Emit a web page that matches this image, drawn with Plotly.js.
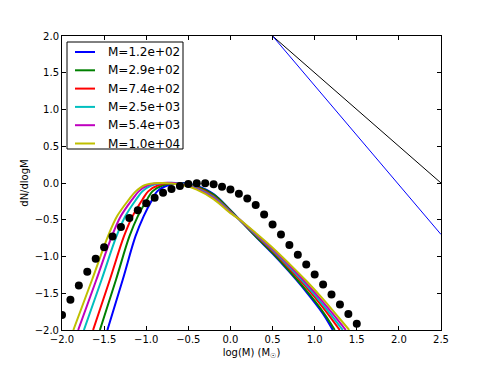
<!DOCTYPE html>
<html>
<head>
<meta charset="utf-8">
<script src="https://cdn.plot.ly/plotly-3.0.1.min.js"></script>
<style>html,body{margin:0;padding:0;background:#fff;}#chart{width:491px;height:368px;}</style>
</head>
<body>
<div id="chart"></div>
<script>
// ---- data ----
const seriesNames = ["M=1.2e+02", "M=2.9e+02", "M=7.4e+02", "M=2.5e+03", "M=5.4e+03", "M=1.0e+04"];
const seriesColors = ["#0000ff", "#008000", "#ff0000", "#00bfbf", "#bf00bf", "#bfbf00"];

const blueX = [-1.461, -1.279, -1.128, -1.03, -0.93, -0.87, -0.74, -0.56, -0.4, -0.2, 0.0, 0.1, 0.3, 0.5, 0.7, 0.9, 1.1, 1.215];
const blueY = [-2.0, -1.316, -0.727, -0.45, -0.227, -0.114, -0.03, 0.0, -0.04, -0.15, -0.37, -0.49, -0.73, -0.96, -1.21, -1.48, -1.78, -2.0];

const greenX = [-1.550, -1.359, -1.200, -1.099, -0.991, -0.926, -0.802, -0.624, -0.4, -0.2, 0.0, 0.1, 0.3, 0.5, 0.7, 0.9, 1.1, 1.239];
const greenY = [-2.0, -1.316, -0.727, -0.45, -0.227, -0.114, -0.03, 0.0, -0.046, -0.158, -0.375, -0.49, -0.724, -0.95, -1.197, -1.462, -1.756, -2.0];

const redX = [-1.631, -1.432, -1.265, -1.162, -1.046, -0.977, -0.858, -0.682, -0.4, -0.2, 0.0, 0.1, 0.3, 0.5, 0.7, 0.9, 1.1, 1.298];
const redY = [-2.0, -1.316, -0.727, -0.45, -0.227, -0.114, -0.03, 0.0, -0.061, -0.18, -0.387, -0.49, -0.709, -0.926, -1.163, -1.416, -1.694, -2.0];

const cyanX = [-1.740, -1.530, -1.354, -1.247, -1.121, -1.046, -0.933, -0.760, -0.6, -0.4, -0.2, 0.0, 0.1, 0.3, 0.5, 0.7, 0.9, 1.1, 1.3, 1.334];
const cyanY = [-2.0, -1.316, -0.727, -0.45, -0.227, -0.114, -0.03, 0.0, -0.006, -0.071, -0.193, -0.394, -0.49, -0.70, -0.911, -1.143, -1.389, -1.658, -1.95, -2.0];

const magentaX = [-1.808, -1.592, -1.409, -1.301, -1.168, -1.089, -0.981, -0.809, -0.6, -0.4, -0.2, 0.0, 0.1, 0.3, 0.5, 0.7, 0.9, 1.1, 1.3, 1.369];
const magentaY = [-2.0, -1.316, -0.727, -0.45, -0.227, -0.114, -0.03, 0.0, -0.012, -0.08, -0.205, -0.402, -0.49, -0.69, -0.897, -1.123, -1.362, -1.622, -1.90, -2.0];

const yellowX = [-1.865, -1.643, -1.455, -1.345, -1.207, -1.125, -1.02, -0.85, -0.6, -0.4, -0.2, 0.0, 0.1, 0.3, 0.5, 0.7, 0.9, 1.1, 1.3, 1.41];
const yellowY = [-2.0, -1.316, -0.727, -0.45, -0.227, -0.114, -0.03, 0.0, -0.02, -0.09, -0.22, -0.41, -0.49, -0.68, -0.88, -1.10, -1.33, -1.58, -1.85, -2.0];

const dotsX = [-2.0, -1.9, -1.8, -1.7, -1.6, -1.5, -1.4, -1.3, -1.2, -1.1, -1.0, -0.9, -0.8, -0.7, -0.6, -0.5, -0.4, -0.3, -0.2, -0.1, 0.0, 0.1, 0.2, 0.3, 0.4, 0.5, 0.6, 0.7, 0.8, 0.9, 1.0, 1.1, 1.2, 1.3, 1.4, 1.5];
const dotsY = [-1.796, -1.588, -1.394, -1.208, -1.032, -0.873, -0.729, -0.597, -0.475, -0.371, -0.276, -0.199, -0.131, -0.081, -0.041, -0.014, -0.005, -0.005, -0.018, -0.05, -0.09, -0.145, -0.21, -0.299, -0.43, -0.566, -0.701, -0.842, -0.977, -1.109, -1.244, -1.38, -1.516, -1.652, -1.783, -1.914];

const slopeBlackX = [0.5, 2.5];
const slopeBlackY = [2.0, 0.0];
const slopeBlueX = [0.5, 2.5];
const slopeBlueY = [2.0, -0.7];

const xTicks = [-2.0, -1.5, -1.0, -0.5, 0.0, 0.5, 1.0, 1.5, 2.0, 2.5];
const yTicks = [-2.0, -1.5, -1.0, -0.5, 0.0, 0.5, 1.0, 1.5, 2.0];

// ---- build traces ----
const curveXs = [blueX, greenX, redX, cyanX, magentaX, yellowX];
const curveYs = [blueY, greenY, redY, cyanY, magentaY, yellowY];

const traces = [];
for (let i = 0; i < curveXs.length; i++) {
  traces.push({
    x: curveXs[i], y: curveYs[i], type: 'scatter', mode: 'lines',
    name: seriesNames[i], showlegend: false,
    line: {color: seriesColors[i], width: 2, shape: 'spline', smoothing: 1}
  });
}
traces.push({x: dotsX, y: dotsY, type: 'scatter', mode: 'markers', showlegend: false,
  marker: {color: '#000000', size: 8, line: {width: 0}}});
traces.push({x: slopeBlackX, y: slopeBlackY, type: 'scatter', mode: 'lines', showlegend: false,
  line: {color: '#000000', width: 1}});
traces.push({x: slopeBlueX, y: slopeBlueY, type: 'scatter', mode: 'lines', showlegend: false,
  line: {color: '#0000ff', width: 1}});

const fmt = v => (v < 0 ? '\u2212' : '') + Math.abs(v).toFixed(1);
const font = {family: 'DejaVu Sans, sans-serif', size: 10, color: '#000'};

const axisCommon = {
  showgrid: false, zeroline: false, showline: true, mirror: 'ticks',
  linecolor: '#000', linewidth: 1, ticks: 'inside', ticklen: 4, tickcolor: '#000',
  tickfont: font
};

// ---- legend drawn inside the axes (matplotlib style) ----
const plotL = 62, plotT = 36, plotW = 379, plotH = 294;
const px = v => (v - plotL) / plotW;
const py = v => (plotT + plotH - v) / plotH;
const shapes = [{
  type: 'rect', xref: 'paper', yref: 'paper',
  x0: px(67), x1: px(183), y0: py(149), y1: py(42),
  line: {color: '#000', width: 1}, fillcolor: '#fff', layer: 'above'
}];
const annotations = [];
for (let i = 0; i < seriesNames.length; i++) {
  const yy = 52 + 18.3 * i;
  shapes.push({type: 'line', xref: 'paper', yref: 'paper',
    x0: px(75), x1: px(95), y0: py(yy), y1: py(yy),
    line: {color: seriesColors[i], width: 2}, layer: 'above'});
  annotations.push({xref: 'paper', yref: 'paper', x: px(106), y: py(yy),
    xanchor: 'left', yanchor: 'middle', showarrow: false, text: seriesNames[i],
    font: {family: 'DejaVu Sans, sans-serif', size: 12, color: '#000'}});
}

const layout = {
  width: 491, height: 368,
  margin: {l: 62, r: 50, t: 36, b: 38},
  paper_bgcolor: '#fff', plot_bgcolor: '#fff',
  font: font,
  showlegend: false,
  xaxis: Object.assign({}, axisCommon, {
    range: [-2.0, 2.5], tickmode: 'array', tickvals: xTicks, ticktext: xTicks.map(fmt),
    title: {text: 'log(M) (M<sub>\u2609</sub>)', font: font, standoff: 4}
  }),
  yaxis: Object.assign({}, axisCommon, {
    range: [-2.0, 2.0], tickmode: 'array', tickvals: yTicks, ticktext: yTicks.map(fmt),
    title: {text: 'dN/dlogM', font: font, standoff: 4}
  }),
  shapes: shapes,
  annotations: annotations
};

Plotly.newPlot('chart', traces, layout, {displayModeBar: false, staticPlot: true});
</script>
</body>
</html>
